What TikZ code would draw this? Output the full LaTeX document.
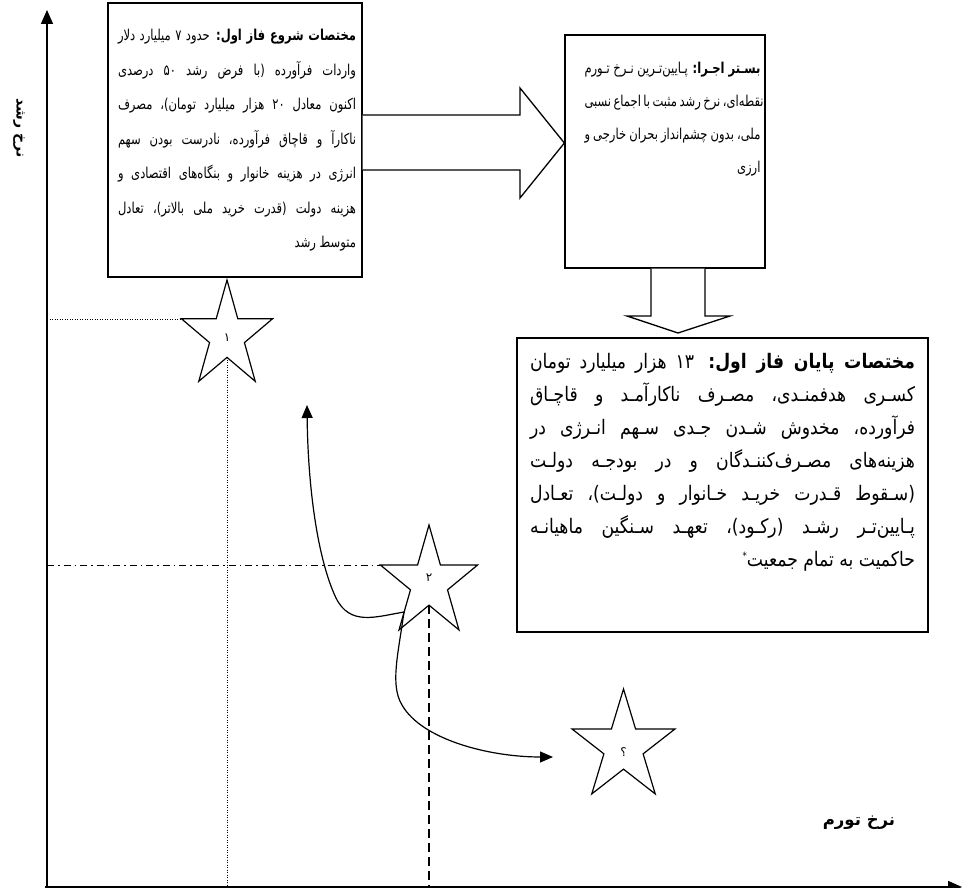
\documentclass[tikz,border=0pt]{standalone}
\usepackage{fontspec}
\setmainfont{DejaVu Sans}
\newfontfamily\farsi[Script=Arabic,FakeStretch=0.77]{DejaVu Sans}
\newfontfamily\farsiwide[Script=Arabic,FakeStretch=0.86]{DejaVu Sans}
\newfontfamily\farsiw[Script=Arabic]{DejaVu Sans}
\TeXXeTstate=1
\usetikzlibrary{arrows.meta,calc}

% one justified right-to-left row, and a last row set to the right
\newcommand{\rtlrow}[1]{\hbox to\hsize{\beginR#1\endR}}
\newcommand{\rtllast}[1]{\hbox to\hsize{\hfill\beginR#1\endR}}
% star of the drawing: centre, x radius, y radius
\newcommand{\wstar}[4]{%
  \draw[starln,shift={(#1,#2)}] (-90:#3 and #4)
    \foreach \k in {1,...,9}{ -- ({-90+36*\k}:{#3*(1-0.618*mod(\k,2))} and {#4*(1-0.618*mod(\k,2))}) } -- cycle;}

\begin{document}
\begin{tikzpicture}[x=1pt,y=-1pt,
  frame/.style={draw,line width=1.3pt,inner sep=0pt},
  blockarr/.style={draw,line width=1.3pt,fill=white,line join=miter},
  starln/.style={line width=1.2pt,line join=miter},
  conn/.style={line width=1.2pt,-{Triangle[length=13pt,width=11pt]}},
  axis/.style={line width=1.6pt,-{Triangle[length=14pt,width=12pt]}},
  guide/.style={line width=.8pt},
  txt/.style={inner sep=0pt,anchor=north,font=\farsi\fontsize{15}{33}\selectfont},
  starlbl/.style={inner sep=0pt,font=\farsiw\fontsize{12}{13}\selectfont},
  axlbl/.style={inner sep=0pt,font=\farsiw\bfseries\fontsize{16.5}{18}\selectfont}]
  \useasboundingbox (0,0) rectangle (962,888);

  % axes
  \draw[axis] (47,888) -- (47,10);
  \draw[axis] (45,887) -- (962,887);
  \node[axlbl,rotate=-90,font=\farsiw\bfseries\fontsize{14}{16}\selectfont] (ylab) at (19,128) {\beginR نرخ رشد\endR};
  \node[axlbl] (xlab) at (859,823) {\beginR نرخ تورم\endR};

  % guide lines to the stars
  \draw[guide,dash pattern=on 1pt off 1.5pt] (47,319) -- (181,319);
  \draw[guide,dash pattern=on 1pt off 1.5pt] (227,357) -- (227,888);
  \draw[guide,dash pattern=on 7pt off 4pt on 1.5pt off 4pt] (47,565) -- (380,565);
  \draw[line width=1.2pt,dash pattern=on 9pt off 5pt] (429,605) -- (429,888);

  % stars
  \wstar{227}{336}{48}{56}
  \wstar{429}{583}{51}{58}
  \wstar{623.5}{747}{54}{58}
  \node[starlbl] (s1) at (227,338) {۱};
  \node[starlbl] (s2) at (429,578) {۲};
  \node[starlbl] (s3) at (623.5,752) {؟};

  % paths out of star 2
  \coordinate (s2j) at (404,612);
  \coordinate (up) at (307,405);
  \coordinate (s3in) at (553,757);
  \draw[conn] (s2j) .. controls (375,617) and (350,626) .. (336,598)
    .. controls (318,560) and (308,490) .. (up);
  \draw[conn] (s2j) .. controls (398,655) and (390,685) .. (402,705)
    .. controls (422,740) and (490,757) .. (s3in);

  % boxes
  \node[frame,minimum width=254pt,minimum height=274pt] (b1) at (235,140) {};
  \node[frame,minimum width=200pt,minimum height=233pt] (b2) at (665,151.5) {};
  \node[frame,minimum width=411pt,minimum height=294pt] (b3) at (722.5,485) {};

  % block arrows
  \draw[blockarr] (b1.east |- 0,115) -- (520,115) -- (520,88) -- (b2.west |- 0,143)
    -- (520,198) -- (520,170) -- (b1.east |- 0,170);
  \draw[blockarr] (651,0 |- b2.south) -- (651,316) -- (627,316) -- (678,333)
    -- (730,316) -- (705,316) -- (705,0 |- b2.south);

  % texts
  \node[txt] (t1) at (237,29) {\vbox{\hsize=238pt \baselineskip=34.5pt
    \rtlrow{{\bfseries مختصات شروع فاز اول:} حدود ۷ میلیارد دلار}
    \rtlrow{واردات فرآورده (با فرض رشد ۵۰ درصدی}
    \rtlrow{اکنون معادل ۲۰ هزار میلیارد تومان)، مصرف}
    \rtlrow{ناکارآ و قاچاق فرآورده، نادرست بودن سهم}
    \rtlrow{انرژی در هزینه خانوار و بنگاه‌های اقتصادی و}
    \rtlrow{هزینه دولت (قدرت خرید ملی بالاتر)، تعادل}
    \rtllast{متوسط رشد}}};
  \node[txt] (t2) at (672.5,62) {\vbox{\hsize=176pt \baselineskip=33pt
    \rtlrow{{\bfseries بسـتر اجـرا:} پـایین‌تـرین نـرخ تـورم}
    \rtlrow{نقطه‌ای، نرخ رشد مثبت با اجماع نسبی}
    \rtlrow{ملی، بدون چشم‌انداز بحران خارجی و}
    \rtllast{ارزی}}};
  \node[txt,font=\farsiwide\fontsize{20}{33}\selectfont] (t3) at (722.5,353) {\vbox{\hsize=385pt \baselineskip=33pt
    \rtlrow{{\bfseries مختصات پایان فاز اول:} ۱۳ هزار میلیارد تومان}
    \rtlrow{کسـری هدفمنـدی، مصـرف ناکارآمـد و قاچـاق}
    \rtlrow{فرآورده، مخدوش شـدن جـدی سـهم انـرژی در}
    \rtlrow{هزینه‌های مصـرف‌کننـدگان و در بودجـه دولـت}
    \rtlrow{(سـقوط قـدرت خریـد خـانوار و دولـت)، تعـادل}
    \rtlrow{پـایین‌تـر رشـد (رکـود)، تعهـد سـنگین ماهیانـه}
    \rtllast{حاکمیت به تمام جمعیت\raisebox{7pt}{\fontsize{10}{11}\selectfont *}}}};
\end{tikzpicture}
\end{document}
